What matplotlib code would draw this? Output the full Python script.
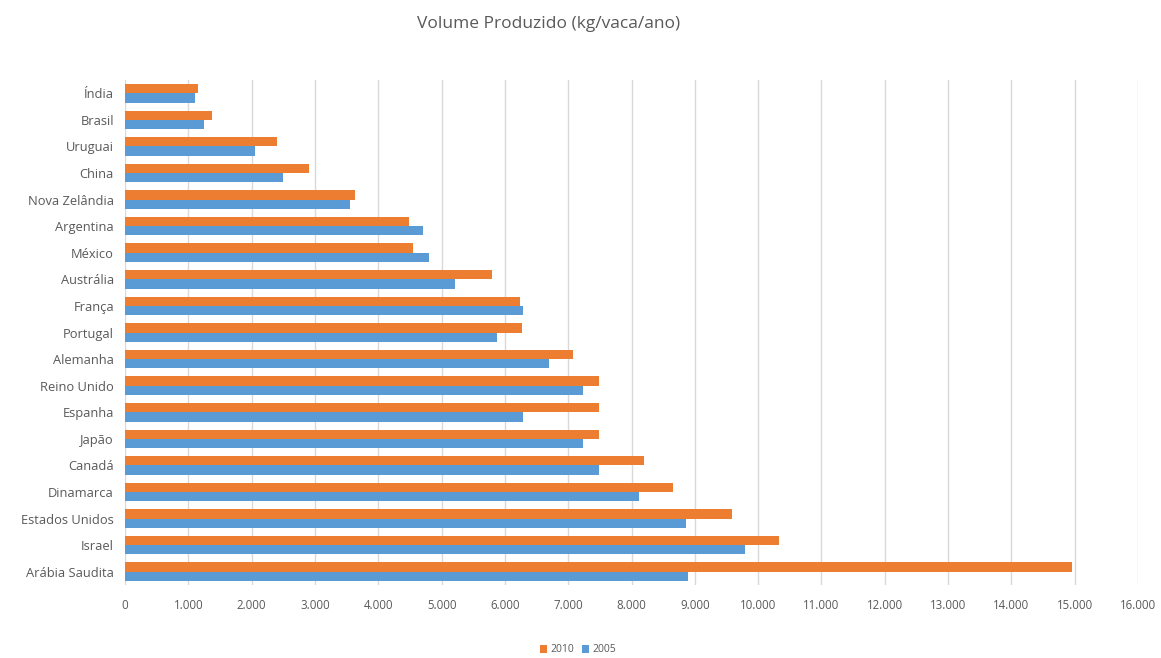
import numpy as np
import matplotlib
matplotlib.use("Agg")
import matplotlib.pyplot as plt

# Data (kg/vaca/ano), top to bottom as in the chart
countries = ["Índia", "Brasil", "Uruguai", "China", "Nova Zelândia", "Argentina",
             "México", "Austrália", "França", "Portugal", "Alemanha", "Reino Unido",
             "Espanha", "Japão", "Canadá", "Dinamarca", "Estados Unidos", "Israel",
             "Arábia Saudita"]
vol_2010 = [1150, 1370, 2400, 2900, 3640, 4490, 4550, 5800, 6240, 6270, 7070, 7480,
            7480, 7480, 8200, 8650, 9580, 10330, 14950]
vol_2005 = [1100, 1240, 2060, 2500, 3550, 4710, 4800, 5210, 6290, 5880, 6700, 7230,
            6290, 7230, 7480, 8120, 8860, 9800, 8900]
xticks = np.arange(0, 16001, 1000)

plt.rcParams["font.family"] = ["Open Sans", "DejaVu Sans"]
grey = "#595959"
orange = "#ED7D31"
blue = "#5B9BD5"

fig = plt.figure(figsize=(11.61, 6.58), dpi=100)
ax = fig.add_axes([125 / 1161, 1 - 585 / 658, (1138 - 125) / 1161, 505 / 658])

y = np.arange(len(countries))[::-1]
h = 0.35
ax.barh(y + h / 2, vol_2010, height=h, color=orange, label="2010", zorder=3)
ax.barh(y - h / 2, vol_2005, height=h, color=blue, label="2005", zorder=3)

ax.set_xlim(0, 16000)
ax.set_ylim(-0.5, len(countries) - 0.5)
ax.set_yticks(y)
ax.set_yticklabels(countries, fontsize=9.3, color=grey)
ax.set_xticks(xticks)
ax.set_xticklabels([f"{v:,}".replace(",", ".") for v in xticks], fontsize=8.3, color=grey)
ax.tick_params(length=0, pad=8)
ax.tick_params(axis="x", pad=10)
ax.grid(axis="x", color="#d9d9d9", linewidth=1, zorder=0)
for s in ax.spines.values():
    s.set_visible(False)

fig.text(549 / 1161, 1 - 24 / 658, "Volume Produzido (kg/vaca/ano)", ha="center", va="center",
         fontsize=12.5, color=grey)

fig.legend(loc="center", bbox_to_anchor=(578 / 1161, 1 - 650 / 658), ncol=2, frameon=False,
           fontsize=7.5, labelcolor=grey, handlelength=0.7, handleheight=0.7,
           handletextpad=0.3, columnspacing=0.8)

fig.savefig("out.png", dpi=100)
